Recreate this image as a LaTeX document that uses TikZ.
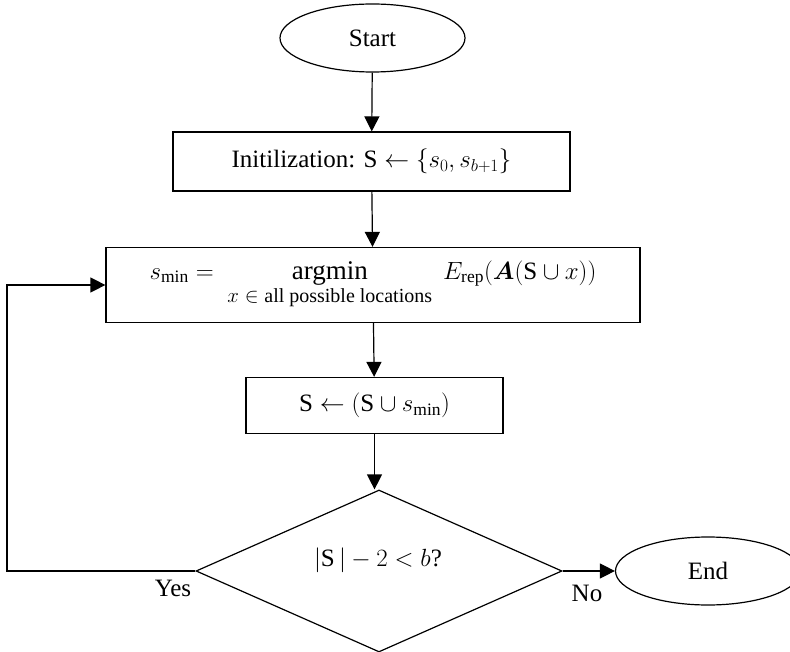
\documentclass[tikz,border=0pt]{standalone}
\usepackage{amsmath}
\usepackage{bm}
\usepackage{fontspec}
\setmainfont{Liberation Serif}
\usetikzlibrary{shapes.geometric,arrows.meta}
\tikzset{
  every node/.style={font=\fontsize{25}{30}\selectfont},
  boxnode/.style={draw, line width=1.2pt, inner sep=0pt, align=center},
  ellnode/.style={draw, ellipse, line width=1.2pt, inner sep=0pt, minimum width=185pt, minimum height=68pt},
  dianode/.style={draw, diamond, line width=1.2pt, inner sep=0pt, minimum width=366pt, minimum height=162pt},
  arr/.style={-{Triangle[length=15pt,width=15pt]}, line width=1.2pt},
  lbl/.style={inner sep=0pt}
}
\begin{document}
\begin{tikzpicture}[x=1pt,y=-1pt]
\useasboundingbox (0,0) rectangle (790,652);
\node[ellnode] (start) at (372.5,38) {Start};
\node[boxnode, minimum width=397pt, minimum height=59pt] (init) at (371.5,161.5)
  {Initilization: $\mathrm{S}\leftarrow\{s_0,s_{b+1}\}$};
\node[boxnode, minimum width=534pt, minimum height=75pt] (big) at (373,285)
  {$s_{\min} = \;\mathop{\text{\fontsize{27}{30}\selectfont argmin}}\limits_{\text{\fontsize{20}{24}\selectfont $x\in{}$all possible locations}}\; E_{\mathrm{rep}}(\bm{A}(\mathrm{S}\cup x))$};
\node[boxnode, minimum width=257pt, minimum height=56pt] (sbox) at (374.5,405.5)
  {$\mathrm{S}\leftarrow(\mathrm{S}\cup s_{\min})$};
\node[dianode] (dia) at (379,571) {};
\node[lbl] (diatext) at (378,560) {$|\mathrm{S}\,|-2<b$?};
\node[ellnode] (end) at (708,571) {End};
\node[lbl] (yes) at (173,588) {Yes};
\node[lbl] (no) at (587,593) {No};
\coordinate (loopA) at (7,571);
\draw[arr] (start) -- (init);
\draw[arr] (init) -- (big);
\draw[arr] (big) -- (sbox);
\draw[arr] (sbox) -- (dia.north -| sbox);
\draw[arr] (dia.west) -- (loopA) |- (big.west);
\draw[arr] (dia.east) -- (end.west);
\end{tikzpicture}
\end{document}
